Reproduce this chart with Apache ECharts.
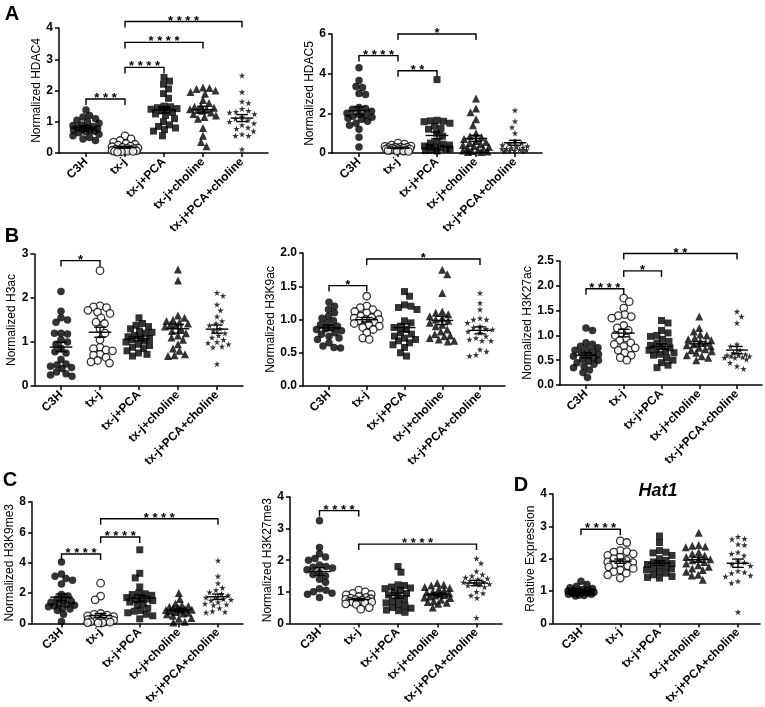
<!DOCTYPE html>
<html>
<head>
<meta charset="utf-8">
<script src="https://cdn.jsdelivr.net/npm/echarts@6/dist/echarts.min.js"></script>
<style>html,body{margin:0;padding:0;background:#fff}#c{width:765px;height:707px}</style>
</head>
<body>
<div id="c"></div>
<script>
// ---------------- DATA ----------------
const categories = ['C3H', 'tx-j', 'tx-j+PCA', 'tx-j+choline', 'tx-j+PCA+choline'];

// Normalized HDAC4 (groups in category order)
const hdac4 = [
  [1.38, 1.2, 1.15, 1.1, 1.05, 1.0, 0.95, 0.9, 0.88, 0.85, 0.82, 0.8, 0.78, 0.76, 0.74, 0.72, 0.7, 0.68, 0.65, 0.6, 0.55, 0.5, 0.45, 0.4],
  [0.55, 0.45, 0.4, 0.35, 0.3, 0.28, 0.25, 0.22, 0.2, 0.18, 0.16, 0.15, 0.14, 0.12, 0.1, 0.1, 0.08, 0.08, 0.07, 0.06, 0.05, 0.05, 0.04, 0.03],
  [2.42, 2.3, 2.2, 2.05, 1.9, 1.75, 1.5, 1.48, 1.45, 1.42, 1.4, 1.38, 1.35, 1.3, 1.25, 1.2, 1.1, 1.0, 0.9, 0.85, 0.8, 0.75, 0.7, 0.55],
  [2.1, 2.08, 2.05, 2.0, 1.95, 1.9, 1.7, 1.6, 1.5, 1.48, 1.45, 1.42, 1.4, 1.38, 1.35, 1.3, 1.25, 1.2, 1.15, 1.1, 0.8, 0.55, 0.35, 0.22],
  [2.48, 1.95, 1.65, 1.6, 1.42, 1.35, 1.32, 1.3, 1.25, 1.15, 1.1, 1.05, 1.0, 0.95, 0.9, 0.82, 0.78, 0.7, 0.6, 0.55, 0.55, 0.12]
];
const hdac4Sig = [[0, 1, 1.73, '***'], [1, 2, 2.74, '****'], [1, 3, 3.54, '****'], [1, 4, 4.21, '****']];

// Normalized HDAC5
const hdac5 = [
  [4.3, 3.65, 3.35, 3.3, 3.0, 2.95, 2.3, 2.25, 2.2, 2.1, 2.0, 1.95, 1.9, 1.85, 1.8, 1.75, 1.7, 1.6, 1.5, 1.4, 1.2, 0.8, 0.3],
  [0.5, 0.45, 0.4, 0.35, 0.33, 0.3, 0.3, 0.28, 0.27, 0.25, 0.25, 0.22, 0.2, 0.2, 0.18, 0.16, 0.15, 0.13, 0.12, 0.1, 0.1, 0.08],
  [3.7, 1.65, 1.62, 1.6, 1.58, 1.5, 1.35, 1.25, 1.2, 1.0, 0.85, 0.6, 0.5, 0.45, 0.4, 0.35, 0.3, 0.3, 0.25, 0.2, 0.2, 0.15, 0.12, 0.1],
  [2.75, 2.25, 2.05, 1.7, 1.4, 1.0, 0.85, 0.8, 0.7, 0.6, 0.55, 0.5, 0.45, 0.4, 0.35, 0.3, 0.25, 0.2, 0.15, 0.12, 0.1, 0.08, 0.05, 0.05],
  [2.15, 1.6, 1.3, 1.0, 0.6, 0.5, 0.45, 0.4, 0.35, 0.3, 0.28, 0.25, 0.22, 0.2, 0.18, 0.15, 0.12, 0.1, 0.1, 0.08]
];
const hdac5Sig = [[0, 1, 4.91, '****'], [1, 2, 4.15, '**'], [1, 3, 6.0, '*']];

// Normalized H3ac
const h3ac = [
  [2.15, 1.7, 1.55, 1.5, 1.45, 1.2, 1.2, 1.18, 1.05, 1.0, 0.95, 0.85, 0.78, 0.75, 0.6, 0.5, 0.48, 0.45, 0.42, 0.4, 0.32, 0.28, 0.25, 0.22],
  [2.62, 1.82, 1.8, 1.78, 1.72, 1.68, 1.65, 1.55, 1.45, 1.42, 1.3, 1.2, 1.05, 0.88, 0.85, 0.82, 0.8, 0.72, 0.7, 0.65, 0.58, 0.55, 0.52],
  [1.55, 1.42, 1.38, 1.35, 1.3, 1.25, 1.22, 1.2, 1.15, 1.12, 1.1, 1.08, 1.05, 1.02, 1.0, 0.95, 0.92, 0.88, 0.85, 0.8, 0.75, 0.72, 0.68],
  [2.65, 2.4, 1.6, 1.55, 1.5, 1.48, 1.45, 1.42, 1.4, 1.38, 1.35, 1.3, 1.25, 1.2, 1.15, 1.1, 1.05, 0.95, 0.85, 0.8, 0.72, 0.7, 0.68],
  [2.12, 2.05, 1.85, 1.72, 1.58, 1.48, 1.42, 1.38, 1.3, 1.25, 1.2, 1.15, 1.1, 1.05, 1.0, 0.98, 0.95, 0.9, 0.88, 0.5]
];
const h3acSig = [[0, 1, 2.85, '*']];

// Normalized H3K9ac
const h3k9ac = [
  [1.26, 1.2, 1.15, 1.1, 1.05, 1.02, 0.98, 0.95, 0.92, 0.9, 0.88, 0.86, 0.85, 0.83, 0.8, 0.78, 0.75, 0.72, 0.7, 0.65, 0.6, 0.58, 0.57],
  [1.35, 1.2, 1.18, 1.15, 1.12, 1.1, 1.08, 1.05, 1.03, 1.02, 1.0, 1.0, 0.98, 0.96, 0.94, 0.92, 0.9, 0.88, 0.85, 0.8, 0.72, 0.7],
  [1.42, 1.35, 1.22, 1.2, 1.18, 1.15, 0.98, 0.95, 0.9, 0.88, 0.85, 0.8, 0.78, 0.75, 0.72, 0.7, 0.68, 0.65, 0.62, 0.58, 0.5, 0.45],
  [1.75, 1.68, 1.4, 1.12, 1.1, 1.08, 1.05, 1.02, 1.0, 0.98, 0.95, 0.92, 0.9, 0.85, 0.82, 0.78, 0.76, 0.75, 0.72, 0.7, 0.68, 0.67],
  [1.4, 1.25, 1.15, 1.02, 1.0, 1.0, 0.95, 0.9, 0.88, 0.86, 0.85, 0.82, 0.8, 0.75, 0.72, 0.7, 0.68, 0.68, 0.55, 0.52, 0.47, 0.45]
];
const h3k9acSig = [[0, 1, 1.51, '*'], [1, 4, 1.91, '*']];

// Normalized H3K27ac
const h3k27ac = [
  [1.15, 1.1, 0.85, 0.82, 0.78, 0.75, 0.72, 0.7, 0.68, 0.65, 0.62, 0.6, 0.58, 0.55, 0.52, 0.5, 0.48, 0.45, 0.42, 0.38, 0.35, 0.3, 0.25, 0.15],
  [1.75, 1.68, 1.55, 1.42, 1.4, 1.38, 1.35, 1.2, 1.15, 1.1, 1.05, 1.0, 0.95, 0.9, 0.85, 0.82, 0.78, 0.75, 0.7, 0.65, 0.6, 0.55, 0.5],
  [1.3, 1.25, 1.1, 1.05, 1.0, 0.98, 0.92, 0.88, 0.85, 0.8, 0.78, 0.75, 0.72, 0.7, 0.68, 0.65, 0.62, 0.6, 0.55, 0.5, 0.45, 0.4, 0.35],
  [1.38, 1.15, 1.08, 1.02, 1.0, 0.95, 0.92, 0.9, 0.88, 0.85, 0.82, 0.8, 0.78, 0.75, 0.72, 0.7, 0.68, 0.65, 0.6, 0.58, 0.55, 0.5],
  [1.48, 1.38, 1.25, 0.82, 0.78, 0.7, 0.65, 0.62, 0.6, 0.6, 0.58, 0.58, 0.56, 0.55, 0.55, 0.52, 0.45, 0.38, 0.33]
];
const h3k27acSig = [[0, 1, 1.94, '****'], [1, 2, 2.3, '*'], [1, 4, 2.65, '**']];

// Normalized H3K9me3
const h3k9me3 = [
  [4.05, 3.25, 3.1, 2.95, 2.85, 2.6, 1.9, 1.8, 1.6, 1.5, 1.45, 1.4, 1.3, 1.25, 1.2, 1.15, 1.1, 1.0, 0.95, 0.85, 0.6, 0.12],
  [2.65, 1.8, 1.55, 0.65, 0.6, 0.55, 0.5, 0.45, 0.4, 0.35, 0.3, 0.3, 0.25, 0.2, 0.2, 0.15, 0.12, 0.1, 0.08, 0.05, 0.05, 0.03],
  [4.85, 3.3, 3.0, 2.4, 2.0, 1.95, 1.9, 1.85, 1.7, 1.65, 1.6, 1.55, 1.5, 1.4, 1.3, 1.2, 1.0, 0.85, 0.8, 0.7, 0.6, 0.5, 0.3],
  [2.0, 1.6, 1.3, 1.2, 1.15, 1.1, 1.05, 1.0, 0.95, 0.9, 0.88, 0.85, 0.8, 0.75, 0.7, 0.65, 0.6, 0.5, 0.35, 0.3, 0.1, 0.05],
  [4.15, 3.1, 2.65, 2.35, 2.2, 2.05, 1.95, 1.85, 1.75, 1.7, 1.6, 1.55, 1.5, 1.4, 1.3, 1.25, 1.2, 1.0, 0.8, 0.75, 0.72]
];
const h3k9me3Sig = [[0, 1, 4.57, '****'], [1, 2, 5.69, '****'], [1, 4, 6.9, '****']];

// Normalized H3K27me3
const h3k27me3 = [
  [3.25, 2.4, 2.2, 2.1, 2.05, 2.0, 1.85, 1.8, 1.78, 1.75, 1.7, 1.6, 1.55, 1.5, 1.4, 1.3, 1.1, 1.05, 1.0, 0.95, 0.92, 0.82],
  [1.05, 1.0, 0.95, 0.92, 0.9, 0.85, 0.82, 0.8, 0.78, 0.76, 0.75, 0.74, 0.72, 0.7, 0.7, 0.68, 0.67, 0.65, 0.62, 0.6, 0.5, 0.45],
  [1.8, 1.62, 1.22, 1.2, 1.15, 1.12, 1.1, 1.05, 1.0, 0.95, 0.9, 0.82, 0.75, 0.7, 0.65, 0.6, 0.55, 0.5, 0.48, 0.42, 0.4, 0.35],
  [1.28, 1.22, 1.2, 1.15, 1.12, 1.1, 1.05, 1.0, 0.98, 0.95, 0.92, 0.9, 0.88, 0.85, 0.82, 0.8, 0.75, 0.7, 0.68, 0.65, 0.62, 0.5],
  [2.05, 1.9, 1.65, 1.55, 1.5, 1.45, 1.42, 1.4, 1.35, 1.32, 1.3, 1.28, 1.25, 1.22, 1.2, 1.15, 1.0, 0.95, 0.88, 0.8, 0.18]
];
const h3k27me3Sig = [[0, 1, 3.57, '****'], [1, 4, 2.51, '****']];

// Hat1 relative expression
const hat1 = [
  [1.3, 1.2, 1.15, 1.1, 1.08, 1.05, 1.03, 1.02, 1.0, 1.0, 0.99, 0.98, 0.97, 0.96, 0.95, 0.95, 0.93, 0.92, 0.9, 0.9, 0.88, 0.86, 0.85],
  [2.55, 2.5, 2.25, 2.22, 2.2, 2.15, 2.1, 2.05, 2.0, 1.95, 1.9, 1.88, 1.85, 1.8, 1.78, 1.75, 1.7, 1.65, 1.6, 1.55, 1.5, 1.4],
  [2.7, 2.5, 2.25, 2.2, 2.18, 2.1, 2.0, 1.95, 1.9, 1.85, 1.82, 1.8, 1.75, 1.7, 1.68, 1.65, 1.6, 1.55, 1.5, 1.45, 1.42, 1.4],
  [2.8, 2.42, 2.4, 2.38, 2.35, 2.2, 2.15, 2.1, 2.05, 2.0, 1.98, 1.95, 1.9, 1.85, 1.8, 1.75, 1.7, 1.65, 1.6, 1.5, 1.48, 1.35],
  [2.68, 2.62, 2.6, 2.45, 2.42, 2.2, 2.15, 2.1, 1.92, 1.88, 1.82, 1.78, 1.62, 1.58, 1.55, 1.48, 1.45, 1.3, 1.25, 0.35]
];
const hat1Sig = [[0, 1, 2.91, '****']];

// ---------------- LAYOUT / STYLE ----------------
const FONT = '"Liberation Sans", Arial, Helvetica, sans-serif';
// axisL/axisR: pixel x of the axis ends; c0/c4: pixel x of first / last group; top/height: plot area
const panels = [
  {data: hdac4, sig: hdac4Sig, name: 'Normalized HDAC4', max: 4, interval: 1, dec: 0, axisL: 59, axisR: 268, c0: 86, c4: 242, top: 28, height: 125, gap: 16},
  {data: hdac5, sig: hdac5Sig, name: 'Normalized HDAC5', max: 6, interval: 2, dec: 0, axisL: 332, axisR: 542, c0: 359, c4: 515, top: 34, height: 119, gap: 11},
  {data: h3ac, sig: h3acSig, name: 'Normalized H3ac', max: 3, interval: 1, dec: 0, axisL: 34.5, axisR: 243, c0: 61, c4: 217, top: 254, height: 132, gap: 10},
  {data: h3k9ac, sig: h3k9acSig, name: 'Normalized H3K9ac', max: 2, interval: 0.5, dec: 1, axisL: 303, axisR: 505, c0: 329, c4: 480, top: 253, height: 133, gap: 23},
  {data: h3k27ac, sig: h3k27acSig, name: 'Normalized H3K27ac', max: 2.5, interval: 0.5, dec: 1, axisL: 560, axisR: 762, c0: 586, c4: 737, top: 261, height: 124, gap: 23},
  {data: h3k9me3, sig: h3k9me3Sig, name: 'Normalized H3K9me3', max: 8, interval: 2, dec: 0, axisL: 32, axisR: 243, c0: 61.5, c4: 218, top: 502, height: 129, gap: 12},
  {data: h3k27me3, sig: h3k27me3Sig, name: 'Normalized H3K27me3', max: 4, interval: 1, dec: 0, axisL: 290, axisR: 502, c0: 319.5, c4: 476.5, top: 497, height: 132, gap: 11},
  {data: hat1, sig: hat1Sig, name: 'Relative Expression', max: 4, interval: 1, dec: 0, axisL: 553, axisR: 760, c0: 581, c4: 738, top: 494, height: 133, gap: 13}
];
const STAR = 'path://M50,0 L61,35 L98,35 L68,57 L79,91 L50,70 L21,91 L32,57 L2,35 L39,35 Z';
const groupStyles = [
  {symbol: 'circle', size: 7.5, item: {color: '#000'}},
  {symbol: 'circle', size: 7.5, item: {color: '#fff', borderColor: '#000', borderWidth: 1.3}},
  {symbol: 'rect', size: 7, item: {color: '#000'}},
  {symbol: 'triangle', size: 8, item: {color: '#000'}},
  {symbol: STAR, size: 6.5, item: {color: '#000'}}
];
const groupTicks = categories.map((c, i) => i);

// beeswarm layout in pixel space (deterministic, from values), spread capped to part of the band
function swarm(vals, pxPerUnit, d, cap) {
  const order = vals.map((v, i) => i).sort((a, b) => vals[b] - vals[a]);
  const placed = [];
  const off = new Array(vals.length).fill(0);
  const step = 0.5;
  for (const i of order) {
    const y = vals[i] * pxPerUnit;
    const cands = [0];
    for (let k = 1; k * step <= cap; k++) {
      if (placed.length % 2) cands.push(k * step, -k * step); else cands.push(-k * step, k * step);
    }
    let best = null, bestScore = -1, bestX = 0;
    for (const x of cands) {
      let mind = Infinity;
      for (const p of placed) { const dd = Math.hypot(p.x - x, p.y - y); if (dd < mind) mind = dd; }
      if (mind >= d) { best = x; break; }
      if (mind > bestScore) { bestScore = mind; bestX = x; }
    }
    if (best === null) best = bestX;
    placed.push({x: best, y});
    off[i] = best;
  }
  return off;
}
function meanSem(a) {
  const n = a.length;
  const m = a.reduce((s, v) => s + v, 0) / n;
  const sd = Math.sqrt(a.reduce((s, v) => s + (v - m) * (v - m), 0) / (n - 1));
  return [m, sd / Math.sqrt(n)];
}

const grid = [], xAxis = [], yAxis = [], series = [];
panels.forEach((p, gi) => {
  const unit = (p.c4 - p.c0) / (categories.length - 1);
  const xmin = -(p.c0 - p.axisL) / unit;
  const xmax = (categories.length - 1) + (p.axisR - p.c4) / unit;
  grid.push({left: p.axisL, top: p.top, width: p.axisR - p.axisL, height: p.height, containLabel: false});
  xAxis.push({
    type: 'value', gridIndex: gi, min: xmin, max: xmax,
    axisLine: {onZero: false, lineStyle: {color: '#000', width: 1.5}},
    axisTick: {show: true, customValues: groupTicks, length: 4, lineStyle: {color: '#000', width: 1.5}},
    axisLabel: {customValues: groupTicks, rotate: 45, margin: 7, color: '#000', fontWeight: 'bold', fontSize: 12, fontFamily: FONT,
      formatter: v => categories[Math.round(v)] || ''},
    splitLine: {show: false}
  });
  yAxis.push({
    type: 'value', gridIndex: gi, min: 0, max: p.max, interval: p.interval,
    name: p.name, nameLocation: 'middle', nameGap: p.gap,
    nameTextStyle: {color: '#000', fontSize: 12, fontFamily: FONT},
    axisLine: {show: true, onZero: false, lineStyle: {color: '#000', width: 1.5}},
    axisTick: {show: true, length: 4, lineStyle: {color: '#000', width: 1.5}},
    axisLabel: {color: '#000', fontWeight: 'bold', fontSize: 12, fontFamily: FONT, margin: 6,
      formatter: v => Number(v).toFixed(p.dec)},
    splitLine: {show: false}
  });
  const ppu = p.height / p.max;
  p.data.forEach((vals, g) => {
    const off = swarm(vals, ppu, 6.5, unit * 0.34);
    const st = groupStyles[g];
    series.push({
      type: 'scatter', xAxisIndex: gi, yAxisIndex: gi, clip: false,
      symbol: st.symbol, symbolSize: st.size, itemStyle: st.item,
      data: vals.map((v, i) => ({value: [g, v], symbolOffset: [off[i], 0]})),
      emphasis: {disabled: true}, silent: true, z: 2
    });
  });
  // mean ± SEM
  const stats = p.data.map((vals, g) => { const ms = meanSem(vals); return [g, ms[0], ms[1]]; });
  series.push({
    type: 'custom', xAxisIndex: gi, yAxisIndex: gi, silent: true, z: 5,
    encode: {x: 0, y: 1},
    data: stats,
    renderItem: (params, api) => {
      const x = api.value(0), m = api.value(1), s = api.value(2);
      const c = api.coord([x, m]), hi = api.coord([x, m + s]), lo = api.coord([x, m - s]);
      const bw = api.size([1, 0])[0];
      const w = bw * 0.29, cw = bw * 0.15;
      const ls = {stroke: '#000', lineWidth: 1.4};
      return {type: 'group', children: [
        {type: 'line', shape: {x1: c[0] - w, y1: c[1], x2: c[0] + w, y2: c[1]}, style: ls},
        {type: 'line', shape: {x1: c[0], y1: hi[1], x2: c[0], y2: lo[1]}, style: ls},
        {type: 'line', shape: {x1: c[0] - cw, y1: hi[1], x2: c[0] + cw, y2: hi[1]}, style: ls},
        {type: 'line', shape: {x1: c[0] - cw, y1: lo[1], x2: c[0] + cw, y2: lo[1]}, style: ls}
      ]};
    }
  });
  // significance brackets
  series.push({
    type: 'custom', xAxisIndex: gi, yAxisIndex: gi, silent: true, z: 6, clip: false,
    encode: {x: [0, 1], y: 2},
    data: p.sig.map(s => [s[0], s[1], s[2]]),
    renderItem: (params, api) => {
      const y = api.value(2);
      const a = api.coord([api.value(0), y]), b = api.coord([api.value(1), y]);
      const label = p.sig[params.dataIndex][3].split('').join(' ');
      return {type: 'group', children: [
        {type: 'polyline', shape: {points: [[a[0], a[1] + 6], [a[0], a[1]], [b[0], b[1]], [b[0], b[1] + 6]]},
          style: {stroke: '#000', lineWidth: 1.4, fill: null}},
        {type: 'text', style: {x: (a[0] + b[0]) / 2, y: a[1] + 6, text: label, align: 'center', verticalAlign: 'bottom',
          fill: '#000', font: 'bold 13px ' + FONT}}
      ]};
    }
  });
});

const letters = [['A', 12, 14], ['B', 12, 236], ['C', 10, 480], ['D', 521, 485]];
const graphic = letters.map(l => ({
  type: 'text', x: l[1], y: l[2],
  style: {text: l[0], fill: '#000', font: 'bold 20px ' + FONT, align: 'center', verticalAlign: 'middle'}
}));
graphic.push({type: 'text', x: 658, y: 491,
  style: {text: 'Hat1', fill: '#000', font: 'italic bold 18px ' + FONT, align: 'center', verticalAlign: 'middle'}});

const chart = echarts.init(document.getElementById('c'), null, {renderer: 'canvas'});
chart.setOption({animation: false, backgroundColor: '#fff', grid, xAxis, yAxis, series, graphic});
</script>
</body>
</html>
